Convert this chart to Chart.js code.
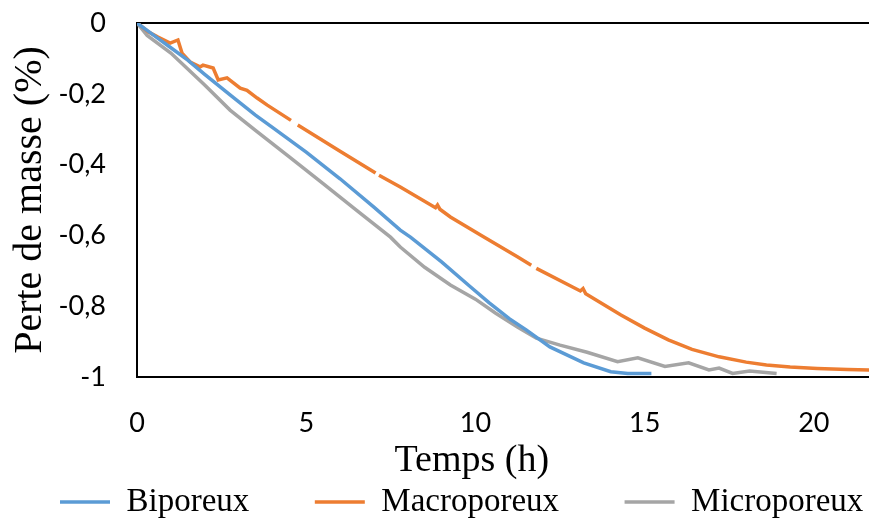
<!DOCTYPE html>
<html>
<head>
<meta charset="utf-8">
<script src="https://cdn.jsdelivr.net/npm/chart.js@4.4.1/dist/chart.umd.min.js"></script>
<style>
  body { margin: 0; background: #fff; }
</style>
</head>
<body>
<canvas id="graphique" width="869" height="520"></canvas>
<script>
// Temps (h) et perte de masse (%)
const tempsBiporeux = [0, 0.5, 1, 1.5, 2, 2.75, 3.5, 4, 5, 6, 7, 7.78, 8.08, 9, 9.85, 10.4, 11, 11.5, 12.2, 13.2, 14, 14.5, 15.2];
const masseBiporeux = [0, -0.035, -0.07, -0.105, -0.145, -0.203, -0.26, -0.295, -0.365, -0.44, -0.52, -0.585, -0.605, -0.675, -0.745, -0.79, -0.835, -0.867, -0.915, -0.96, -0.985, -0.99, -0.99];

const tempsMacroporeux = [0, 0.09, 0.33, 0.62, 0.98, 1.21, 1.33, 1.57, 1.86, 1.95, 2.25, 2.4, 2.66, 3.05, 3.25, 3.55, 3.85, 4.55, 4.65, 4.75, 6, 7.05, 7.1, 7.15, 7.78, 8.82, 8.88, 8.95, 9.26, 10.2, 11.24, 11.65, 11.72, 11.8, 13.1, 13.18, 13.26, 14.3, 15, 15.7, 16.4, 17.2, 18, 18.6, 19.3, 20.1, 21, 22.5];
const masseMacroporeux = [0, -0.006, -0.025, -0.04, -0.057, -0.048, -0.085, -0.11, -0.124, -0.119, -0.127, -0.161, -0.155, -0.184, -0.19, -0.212, -0.232, -0.275, null, -0.288, -0.362, -0.424, null, -0.43, -0.463, -0.522, -0.514, -0.526, -0.548, -0.602, -0.66, -0.684, null, -0.693, -0.757, -0.75, -0.765, -0.825, -0.862, -0.895, -0.922, -0.943, -0.958, -0.966, -0.972, -0.976, -0.979, -0.982];

const tempsMicroporeux = [0, 0.3, 1, 2, 2.75, 3.5, 4.5, 5.5, 6.5, 7.49, 7.78, 8.5, 9.26, 10, 10.6, 11.24, 11.8, 12.5, 13.3, 14.2, 14.8, 15.6, 16.3, 16.9, 17.2, 17.6, 18.1, 18.9];
const masseMicroporeux = [0, -0.035, -0.085, -0.175, -0.246, -0.303, -0.378, -0.454, -0.53, -0.605, -0.633, -0.69, -0.74, -0.78, -0.82, -0.859, -0.89, -0.91, -0.93, -0.957, -0.946, -0.97, -0.96, -0.98, -0.975, -0.99, -0.983, -0.99];

const ticksX = [0, 5, 10, 15, 20];
const ticksY = [0, -0.2, -0.4, -0.6, -0.8, -1];
const etiquettesY = ["0", "-0,2", "-0,4", "-0,6", "-0,8", "-1"];

function points(temps, masse) {
    return temps.map((t, i) => ({ x: t, y: masse[i] }));
}

const serif = "'Liberation Serif', 'Times New Roman', serif";
const sans = "Lato, 'Liberation Sans', sans-serif";

const ctx = document.getElementById("graphique").getContext("2d");

new Chart(ctx, {
    type: "line",
    data: {
        datasets: [
            {
                label: "Biporeux",
                data: points(tempsBiporeux, masseBiporeux),
                borderColor: "#5B9BD5",
                backgroundColor: "#5B9BD5",
                borderWidth: 3.5,
                pointRadius: 0,
                spanGaps: false
            },
            {
                label: "Macroporeux",
                data: points(tempsMacroporeux, masseMacroporeux),
                borderColor: "#ED7D31",
                backgroundColor: "#ED7D31",
                borderWidth: 3.5,
                pointRadius: 0,
                spanGaps: false
            },
            {
                label: "Microporeux",
                data: points(tempsMicroporeux, masseMicroporeux),
                borderColor: "#A5A5A5",
                backgroundColor: "#A5A5A5",
                borderWidth: 3.5,
                pointRadius: 0,
                spanGaps: false
            }
        ]
    },
    options: {
        responsive: false,
        animation: false,
        layout: { padding: { top: 23, left: -5.5, right: -80, bottom: 0 } },
        plugins: {
            tooltip: { enabled: false },
            // titre de l'axe des temps, centré comme sur la figure d'origine
            title: {
                display: true,
                text: "Temps (h)",
                position: "bottom",
                weight: 500,
                color: "#000",
                font: { family: serif, size: 38, weight: "normal" },
                padding: { top: 51.2, bottom: -63.8 }
            },
            legend: {
                position: "bottom",
                align: "start",
                weight: 1000,
                maxHeight: 100,
                labels: {
                    usePointStyle: true,
                    pointStyle: "line",
                    pointStyleWidth: 50,
                    padding: 65.5,
                    color: "#000",
                    font: { family: serif, size: 33 }
                }
            }
        },
        scales: {
            x: {
                type: "linear",
                min: 0,
                max: 21.63,
                afterFit: s => { s.height = 10; },
                afterBuildTicks: s => { s.ticks = ticksX.map(v => ({ value: v })); },
                border: { display: true, color: "#000", width: 2 },
                grid: { display: false, drawTicks: false },
                ticks: {
                    // étiquettes sous l'axe, hors de la zone de découpe de l'axe
                    mirror: true,
                    padding: -62,
                    color: "#000",
                    font: { family: sans, size: 27 }
                }
            },
            y: {
                min: -1,
                max: 0,
                afterFit: s => { s.width = 142.5; },
                afterBuildTicks: s => { s.ticks = ticksY.map(v => ({ value: v })); },
                border: { display: true, color: "#000", width: 2 },
                grid: {
                    drawTicks: true,
                    tickLength: 31,
                    tickColor: "rgba(0,0,0,0)",
                    lineWidth: 2,
                    color: c => (c.tick && c.tick.value === 0 ? "#000" : "rgba(0,0,0,0)")
                },
                ticks: {
                    padding: 0,
                    color: "#000",
                    font: { family: sans, size: 27 },
                    callback: v => etiquettesY[ticksY.findIndex(t => Math.abs(t - v) < 1e-6)]
                },
                title: {
                    display: true,
                    text: "Perte de masse (%)",
                    color: "#000",
                    font: { family: serif, size: 40 },
                    padding: { top: 11.5, bottom: 0 }
                }
            }
        }
    }
});
</script>
</body>
</html>
